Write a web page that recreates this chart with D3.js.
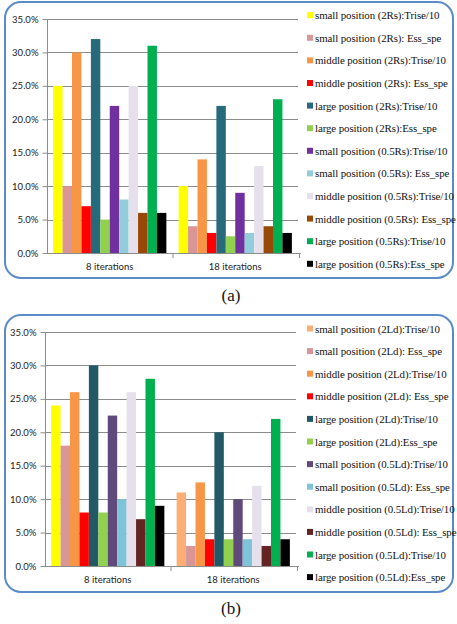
<!DOCTYPE html>
<html><head><meta charset="utf-8">
<script src="https://cdn.jsdelivr.net/npm/d3@7"></script>
<style>body{margin:0;background:#fff}svg{display:block}
.leg{font-family:"Liberation Serif","Times New Roman",serif}
.cap{font-family:"Liberation Serif","Times New Roman",serif}
</style>
</head><body>
<svg id="c" width="457" height="624"></svg>
<script>
const categories = ["8 iterations", "18 iterations"];
const yTicks = [0, 0.05, 0.10, 0.15, 0.20, 0.25, 0.30, 0.35];

const seriesA = [
  "small position (2Rs):Trise/10", "small position (2Rs): Ess_spe",
  "middle position (2Rs):Trise/10", "middle position (2Rs): Ess_spe",
  "large position (2Rs):Trise/10", "large position (2Rs):Ess_spe",
  "small position (0.5Rs):Trise/10", "small position (0.5Rs): Ess_spe",
  "middle position (0.5Rs):Trise/10", "middle position (0.5Rs): Ess_spe",
  "large position (0.5Rs):Trise/10", "large position (0.5Rs):Ess_spe"];
const valuesA8  = [0.25, 0.10, 0.30, 0.07, 0.32, 0.05, 0.22, 0.08, 0.25, 0.06, 0.31, 0.06];
const valuesA18 = [0.10, 0.04, 0.14, 0.03, 0.22, 0.025, 0.09, 0.03, 0.13, 0.04, 0.23, 0.03];
const colorsA = ["#FFFF00","#D99694","#F79646","#FF0000","#276A7C","#92D050","#7030A0","#92CDDC","#E6E0EC","#984807","#00B050","#000000"];

const seriesB = [
  "small position (2Ld):Trise/10", "small position (2Ld): Ess_spe",
  "middle position (2Ld):Trise/10", "middle position (2Ld): Ess_spe",
  "large position (2Ld):Trise/10", "large position (2Ld):Ess_spe",
  "small position (0.5Ld):Trise/10", "small position (0.5Ld): Ess_spe",
  "middle position (0.5Ld):Trise/10", "middle position (0.5Ld): Ess_spe",
  "large position (0.5Ld):Trise/10", "large position (0.5Ld):Ess_spe"];
const valuesB8  = [0.24, 0.18, 0.26, 0.08, 0.30, 0.08, 0.225, 0.10, 0.26, 0.07, 0.28, 0.09];
const valuesB18 = [0.11, 0.03, 0.125, 0.04, 0.20, 0.04, 0.10, 0.04, 0.12, 0.03, 0.22, 0.04];
const colorsB = ["#FCAE74","#D99694","#F79646","#FF0000","#215967","#92D050","#604A7B","#7FC3D8","#E6E0EC","#632423","#00B050","#000000"];
// in (b) the first bar of the first group is drawn yellow in the original
const colorsB8Override = {0: "#FFFF00"};

const svg = d3.select("#c");

function chart(cfg) {
  const g = svg.append("g");
  g.append("rect").attr("x", cfg.box[0]).attr("y", cfg.box[1])
    .attr("width", cfg.box[2]).attr("height", cfg.box[3])
    .attr("rx", 16).attr("ry", 16)
    .attr("fill", "#fff").attr("stroke", "#5B8BC9").attr("stroke-width", 2);

  const y = d3.scaleLinear().domain([0, 0.35]).range([cfg.bottom, cfg.top]);
  const x0 = d3.scaleBand().domain(categories).range([cfg.left, cfg.right]).padding(0);
  const x1 = d3.scaleBand().domain(d3.range(12)).range([0, x0.bandwidth()]).paddingOuter(0.65).paddingInner(0);

  g.append("g").selectAll("line").data(yTicks.slice(1)).join("line")
    .attr("x1", cfg.left).attr("x2", cfg.right)
    .attr("y1", d => Math.round(y(d)) + 0.5).attr("y2", d => Math.round(y(d)) + 0.5)
    .attr("stroke", "#8C8C8C").attr("stroke-width", 1);

  const data = [cfg.v8, cfg.v18];
  categories.forEach((c, ci) => {
    g.append("g").attr("transform", `translate(${x0(c)},0)`)
      .selectAll("rect").data(data[ci]).join("rect")
      .attr("x", (d, i) => x1(i)).attr("width", x1.bandwidth())
      .attr("y", d => y(d)).attr("height", d => cfg.bottom - y(d))
      .attr("fill", (d, i) => (ci === 0 && cfg.override[i]) || cfg.colors[i]);
  });

  const ya = g.append("g").attr("transform", `translate(${cfg.left + 0.5},0)`)
    .call(d3.axisLeft(y).tickValues(yTicks).tickFormat(d3.format(".1%")).tickSize(5).tickPadding(4));
  ya.selectAll("path,line").attr("stroke", "#8C8C8C");
  ya.select(".domain").attr("d", `M0,${cfg.top}V${cfg.bottom}`);
  ya.selectAll("text").attr("font-family", "Lato, 'Open Sans', sans-serif").attr("font-size", 9.5).attr("fill", "#222");

  const xa = g.append("g").attr("transform", `translate(0,${cfg.bottom + 0.5})`)
    .call(d3.axisBottom(x0).tickSize(0).tickPadding(10));
  xa.select(".domain").attr("stroke", "#8C8C8C").attr("d", `M${cfg.left},0H${cfg.right + 3}`);
  xa.selectAll("text").attr("font-family", "Lato, 'Open Sans', sans-serif").attr("font-size", 9.5).attr("fill", "#222");
  g.append("g").selectAll("line").data([x0(categories[1]), cfg.right + 1]).join("line")
    .attr("x1", d => d + 0.5).attr("x2", d => d + 0.5)
    .attr("y1", cfg.bottom).attr("y2", cfg.bottom + 5).attr("stroke", "#8C8C8C");

  const lg = g.append("g");
  cfg.series.forEach((s, i) => {
    const yy = cfg.legTop + i * cfg.legStep;
    lg.append("rect").attr("x", 307).attr("y", yy - 3.5).attr("width", 6).attr("height", 6).attr("fill", cfg.colors[i]);
    lg.append("text").attr("class", "leg").attr("x", 315).attr("y", yy + 3.5)
      .style("font-size", "10.9px").style("letter-spacing", "-0.1px").attr("fill", "#111").text(s);
  });

  g.append("text").attr("class", "cap").attr("x", 231).attr("y", cfg.caption).attr("text-anchor", "middle")
    .style("font-size", "17px").attr("fill", "#111").text(cfg.label);
}

chart({box: [5, 2, 448, 276], top: 19, bottom: 253, left: 47, right: 298,
  v8: valuesA8, v18: valuesA18, colors: colorsA, override: {}, series: seriesA,
  legTop: 15.7, legStep: 22.6, caption: 301, label: "(a)"});
chart({box: [5, 315, 448, 277], top: 332, bottom: 566, left: 45, right: 296,
  v8: valuesB8, v18: valuesB18, colors: colorsB, override: colorsB8Override, series: seriesB,
  legTop: 329, legStep: 22.6, caption: 614, label: "(b)"});
</script>
</body></html>
